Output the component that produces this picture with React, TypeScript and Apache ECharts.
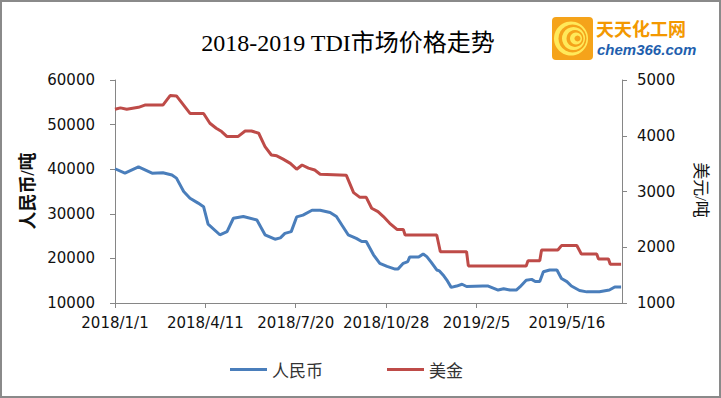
import React, { useEffect, useRef } from "react";
import * as echarts from "echarts";

const titleText = "2018-2019 TDI市场价格走势";
const xTickLabels = ["2018/1/1", "2018/4/11", "2018/7/20", "2018/10/28", "2019/2/5", "2019/5/16"];
const leftName = "人民币/吨";
const rightName = "美元/吨";
const seriesNames = ["人民币", "美金"];

const cnyDates = ["2018/1/1","2018/1/12","2018/1/27","2018/2/11","2018/2/23","2018/3/5","2018/3/10","2018/3/18","2018/3/25","2018/4/3","2018/4/9","2018/4/14","2018/4/27","2018/5/5","2018/5/12","2018/5/23","2018/6/7","2018/6/16","2018/6/27","2018/7/3","2018/7/8","2018/7/15","2018/7/21","2018/7/28","2018/8/7","2018/8/16","2018/8/27","2018/9/3","2018/9/9","2018/9/16","2018/9/25","2018/10/1","2018/10/6","2018/10/14","2018/10/21","2018/10/29","2018/11/7","2018/11/10","2018/11/16","2018/11/21","2018/11/23","2018/12/3","2018/12/8","2018/12/12","2018/12/17","2018/12/23","2018/12/26","2018/12/30","2019/1/3","2019/1/8","2019/1/14","2019/1/20","2019/1/25","2019/2/12","2019/2/18","2019/3/1","2019/3/7","2019/3/14","2019/3/21","2019/3/25","2019/4/1","2019/4/7","2019/4/11","2019/4/16","2019/4/20","2019/4/27","2019/5/5","2019/5/10","2019/5/16","2019/5/21","2019/5/30","2019/6/7","2019/6/21","2019/7/2","2019/7/8","2019/7/15"];
const cnyValues = [40100,39100,40500,39100,39200,38700,38000,35000,33500,32400,31600,27700,25300,26000,29000,29400,28600,25300,24300,24600,25600,26000,29300,29700,30800,30800,30300,29400,27500,25300,24500,23800,23800,20800,18900,18200,17600,17600,18900,19300,20300,20300,21000,20400,19100,17400,17200,16300,15200,13500,13800,14200,13700,13800,13800,12900,13200,12900,12900,13600,15100,15300,14800,14800,17000,17400,17400,15500,14800,13800,12800,12500,12500,12900,13600,13600];

const usdDates = ["2018/1/1","2018/1/7","2018/1/14","2018/1/27","2018/2/3","2018/2/23","2018/3/3","2018/3/10","2018/3/25","2018/4/9","2018/4/16","2018/4/23","2018/4/29","2018/5/5","2018/5/17","2018/5/25","2018/6/1","2018/6/9","2018/6/16","2018/6/23","2018/6/29","2018/7/6","2018/7/14","2018/7/21","2018/7/27","2018/8/3","2018/8/10","2018/8/16","2018/9/14","2018/9/22","2018/9/29","2018/10/6","2018/10/12","2018/10/19","2018/10/25","2018/11/1","2018/11/9","2018/11/16","2018/11/18","2018/12/23","2018/12/27","2019/1/25","2019/1/27","2019/4/1","2019/4/3","2019/4/16","2019/4/18","2019/5/6","2019/5/10","2019/5/27","2019/6/1","2019/6/18","2019/6/20","2019/7/1","2019/7/3","2019/7/15"];
const usdValues = [4475,4500,4475,4510,4550,4550,4720,4715,4400,4400,4225,4135,4075,3985,3985,4085,4085,4045,3805,3655,3640,3580,3505,3400,3475,3420,3385,3310,3290,2980,2895,2895,2700,2640,2550,2430,2320,2320,2220,2220,1920,1920,1665,1665,1760,1760,1950,1950,2030,2030,1880,1880,1790,1790,1695,1695];

const START = Date.UTC(2018, 0, 1);
function dayOf(s: string): number {
  const [y, m, d] = s.split("/").map(Number);
  return Math.round((Date.UTC(y, m - 1, d) - START) / 86400000);
}

export default function App() {
  const ref = useRef<HTMLDivElement>(null);
  useEffect(() => {
    if (!ref.current) return;
    const chart = echarts.init(ref.current, null, { renderer: "svg" });
    const numFont = "'DejaVu Sans', 'Liberation Sans', sans-serif";
    const cjkSerif = "'Liberation Serif', 'Noto Sans CJK SC', serif";
    const axisColor = "#868686";
    const plain = (v: number) => String(v);
    chart.setOption({
      animation: false,
      backgroundColor: "#ffffff",
      title: {
        text: titleText,
        left: 343,
        top: 26,
        textAlign: "center",
        textStyle: { fontFamily: cjkSerif, fontSize: 24, fontWeight: "normal", color: "#000" },
      },
      legend: {
        left: 225,
        top: 356,
        itemGap: 64,
        itemWidth: 37,
        itemHeight: 3,
        icon: "rect",
        data: seriesNames,
        textStyle: { fontFamily: "'Noto Sans CJK SC', sans-serif", fontSize: 17, color: "#333" },
      },
      grid: { left: 115, right: 99, top: 80, bottom: 95 },
      xAxis: {
        type: "value",
        min: 0,
        max: 561,
        interval: 100,
        splitLine: { show: false },
        axisLine: { lineStyle: { color: axisColor } },
        axisTick: { show: true, length: 5, lineStyle: { color: axisColor } },
        axisLabel: {
          margin: 12,
          showMaxLabel: false,
          fontFamily: numFont,
          fontSize: 15,
          color: "#111",
          formatter: (v: number) => xTickLabels[Math.round(v / 100)] ?? "",
        },
      },
      yAxis: [
        {
          type: "value",
          min: 10000,
          max: 60000,
          interval: 10000,
          splitLine: { show: false },
          axisLine: { show: true, lineStyle: { color: axisColor } },
          axisTick: { show: true, length: 5, lineStyle: { color: axisColor } },
          axisLabel: { margin: 20, fontFamily: numFont, fontSize: 15, color: "#111", formatter: plain },
        },
        {
          type: "value",
          min: 1000,
          max: 5000,
          interval: 1000,
          position: "right",
          splitLine: { show: false },
          axisLine: { show: true, lineStyle: { color: axisColor } },
          axisTick: { show: true, length: 5, lineStyle: { color: axisColor } },
          axisLabel: { margin: 15, fontFamily: numFont, fontSize: 15, color: "#111", formatter: plain },
        },
      ],
      series: [
        {
          name: seriesNames[0],
          type: "line",
          yAxisIndex: 0,
          showSymbol: false,
          color: "#4a7ebb",
          lineStyle: { width: 3, color: "#4a7ebb" },
          data: cnyDates.map((d, i) => [dayOf(d), cnyValues[i]]),
        },
        {
          name: seriesNames[1],
          type: "line",
          yAxisIndex: 1,
          showSymbol: false,
          color: "#be4b48",
          lineStyle: { width: 3, color: "#be4b48" },
          data: usdDates.map((d, i) => [dayOf(d), usdValues[i]]),
        },
      ],
      graphic: [
        {
          type: "rect",
          shape: { x: 1, y: 1, width: 719, height: 396 },
          style: { fill: "none", stroke: "#8a8a8a", lineWidth: 2 },
          silent: true,
        },
        {
          type: "text",
          x: 28,
          y: 191,
          rotation: Math.PI / 2,
          style: {
            text: leftName,
            align: "center",
            verticalAlign: "middle",
            font: "bold 18px 'Liberation Serif', 'Noto Sans CJK SC', serif",
            fill: "#111",
          },
        },
        {
          type: "text",
          x: 700,
          y: 190,
          rotation: -Math.PI / 2,
          style: {
            text: rightName,
            align: "center",
            verticalAlign: "middle",
            font: "17px 'Liberation Serif', 'Noto Sans CJK SC', serif",
            fill: "#111",
          },
        },
        {
          type: "group",
          children: [
            { type: "rect", shape: { x: 552, y: 17, width: 41, height: 43, r: 4 }, style: { fill: "#f5a31a" } },
            { type: "circle", shape: { cx: 571, cy: 38.5, r: 17 }, style: { fill: "#ffe95a" } },
            { type: "circle", shape: { cx: 572.5, cy: 38.5, r: 14 }, style: { fill: "#f5a31a" } },
            { type: "circle", shape: { cx: 573.5, cy: 38.5, r: 11.5 }, style: { fill: "#ffe95a" } },
            { type: "circle", shape: { cx: 575, cy: 38.5, r: 8.5 }, style: { fill: "#f5a31a" } },
            { type: "circle", shape: { cx: 576, cy: 38.5, r: 6 }, style: { fill: "#ffe95a" } },
            { type: "circle", shape: { cx: 577.5, cy: 38.5, r: 3 }, style: { fill: "#f5a31a" } },
            {
              type: "text",
              x: 596,
              y: 28,
              style: {
                text: "天天化工网",
                align: "left",
                verticalAlign: "middle",
                font: "bold 18px 'Noto Sans CJK SC', sans-serif",
                fill: "#f39800",
              },
            },
            {
              type: "text",
              x: 597,
              y: 49,
              style: {
                text: "chem366.com",
                align: "left",
                verticalAlign: "middle",
                font: "italic bold 15px 'Liberation Sans', Arial, sans-serif",
                fill: "#1f5fae",
              },
            },
          ],
        },
      ],
    });
    return () => chart.dispose();
  }, []);
  return (
    <div
      ref={ref}
      style={{ position: "absolute", left: 0, top: 0, width: 721, height: 398 }}
    />
  );
}
